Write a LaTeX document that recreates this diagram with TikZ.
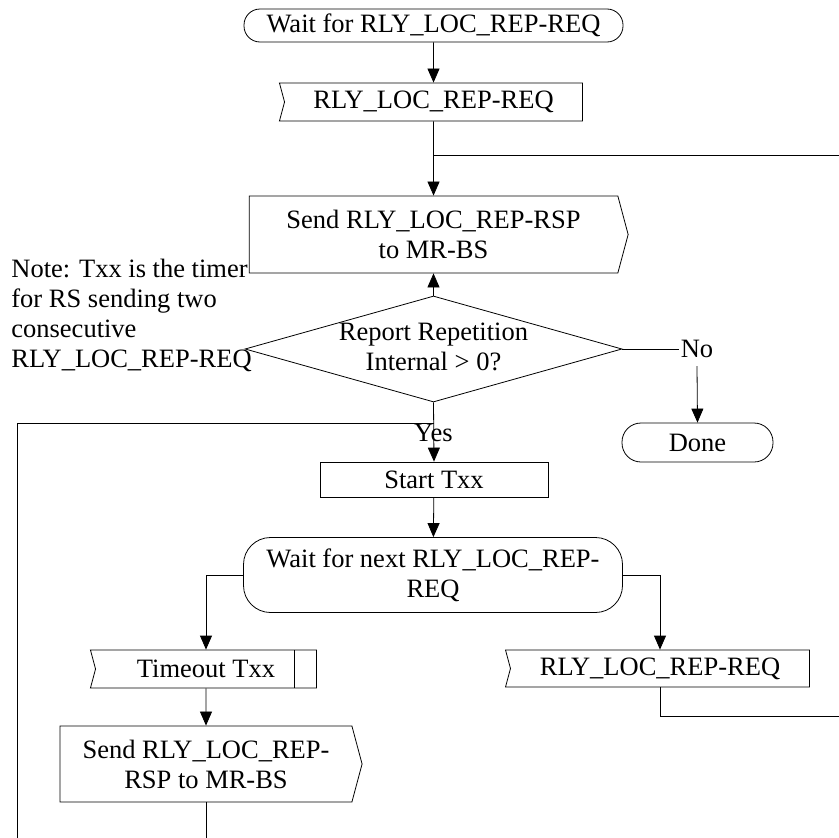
\documentclass[tikz,border=0pt]{standalone}
\usepackage{fontspec}
\setmainfont{Liberation Serif}
\usepackage{tikz}
\usetikzlibrary{arrows.meta, positioning, shapes.geometric, shapes.symbols}

\begin{document}
\begin{tikzpicture}[x=1pt, y=-1pt, line width=0.8pt,
    every node/.style={font=\fontsize{26.5}{30}\selectfont, inner sep=2pt},
    arr/.style={-{Triangle[length=14pt, width=12pt]}},
    term/.style={draw, rectangle, rounded corners=#1, align=center},
    box/.style={draw, rectangle, align=center},
    recv/.style={draw, signal, signal to=nowhere, signal from=west, signal pointer angle=150, align=center},
    send/.style={draw, signal, signal to=east, signal pointer angle=150, align=center},
    dec/.style={draw, diamond, inner sep=0pt}]
    \useasboundingbox (0,0) rectangle (839,838);

    % Top part
    \node[term=16pt, minimum width=379pt, minimum height=33pt] (wait) at (433.5,25.5) {Wait for RLY\_LOC\_REP-REQ};
    \node[recv, minimum width=303pt, minimum height=38pt] (req) at (433.5,102) {RLY\_LOC\_REP-REQ};
    \node[send, minimum width=379pt, minimum height=77pt] (rsp) at (433.5,234.5) {Send RLY\_LOC\_REP-RSP\\to MR-BS};
    \node[dec, minimum width=377pt, minimum height=106pt] (rep) at (433.5,349)
        {\makebox[0pt]{\begin{tabular}{@{}c@{}}Report Repetition\\Internal > 0?\end{tabular}}};
    \node[align=left, anchor=north west, inner sep=0pt] (note) at (11,259) {Note: Txx is the timer\\for RS sending two\\consecutive\\RLY\_LOC\_REP-REQ};

    % Branches
    \node[inner xsep=1pt, inner ysep=8pt] (no) at (697,349) {No};
    \node[term=19pt, minimum width=151pt, minimum height=39pt] (done) at (697.5,442.5) {Done};
    \node[inner sep=0pt] (yes) at (433.5,433) {Yes};
    \node[box, minimum width=228pt, minimum height=35pt] (start) at (434,479.5) {Start Txx};
    \node[term=27pt, minimum width=379pt, minimum height=75pt] (next) at (433,575) {Wait for next RLY\_LOC\_REP-\\REQ};

    % Bottom part
    \node[recv, minimum width=226pt, minimum height=38pt,
        path picture={\draw ([xshift=-22pt]path picture bounding box.north east) -- ([xshift=-22pt]path picture bounding box.south east);}]
        (tmo) at (206,669) {Timeout Txx};
    \node[recv, minimum width=304pt, minimum height=37pt] (req2) at (660,668.5) {RLY\_LOC\_REP-REQ};
    \node[send, minimum width=302pt, minimum height=76pt] (rsp2) at (206,764) {Send RLY\_LOC\_REP-\\RSP to MR-BS};

    % Loop ends
    \coordinate (back) at (839,155);
    \coordinate (out) at (839,716);
    \coordinate (loop) at (17,838);
    \coordinate (down) at (206,838);
    \coordinate (join) at (433.5,423);

    % Flow lines
    \draw[arr] (wait) -- (req);
    \draw[arr] (req) -- (rsp);
    \draw (back) -- (back -| req.south);
    \draw[arr] (rep.north) -- (rsp.south);
    \draw (rep.east) -- (no.west);
    \draw[arr] (no.south) -- (done.north);
    \draw[arr] (rep.south) -- (start.north);
    \draw (loop) |- (join);
    \draw[arr] (start) -- (next);
    \draw[arr] (next.west) -| (tmo.north);
    \draw[arr] (next.east) -| (req2.north);
    \draw[arr] (tmo) -- (rsp2);
    \draw (rsp2.south) -- (down);
    \draw (req2.south) |- (out);
\end{tikzpicture}
\end{document}
